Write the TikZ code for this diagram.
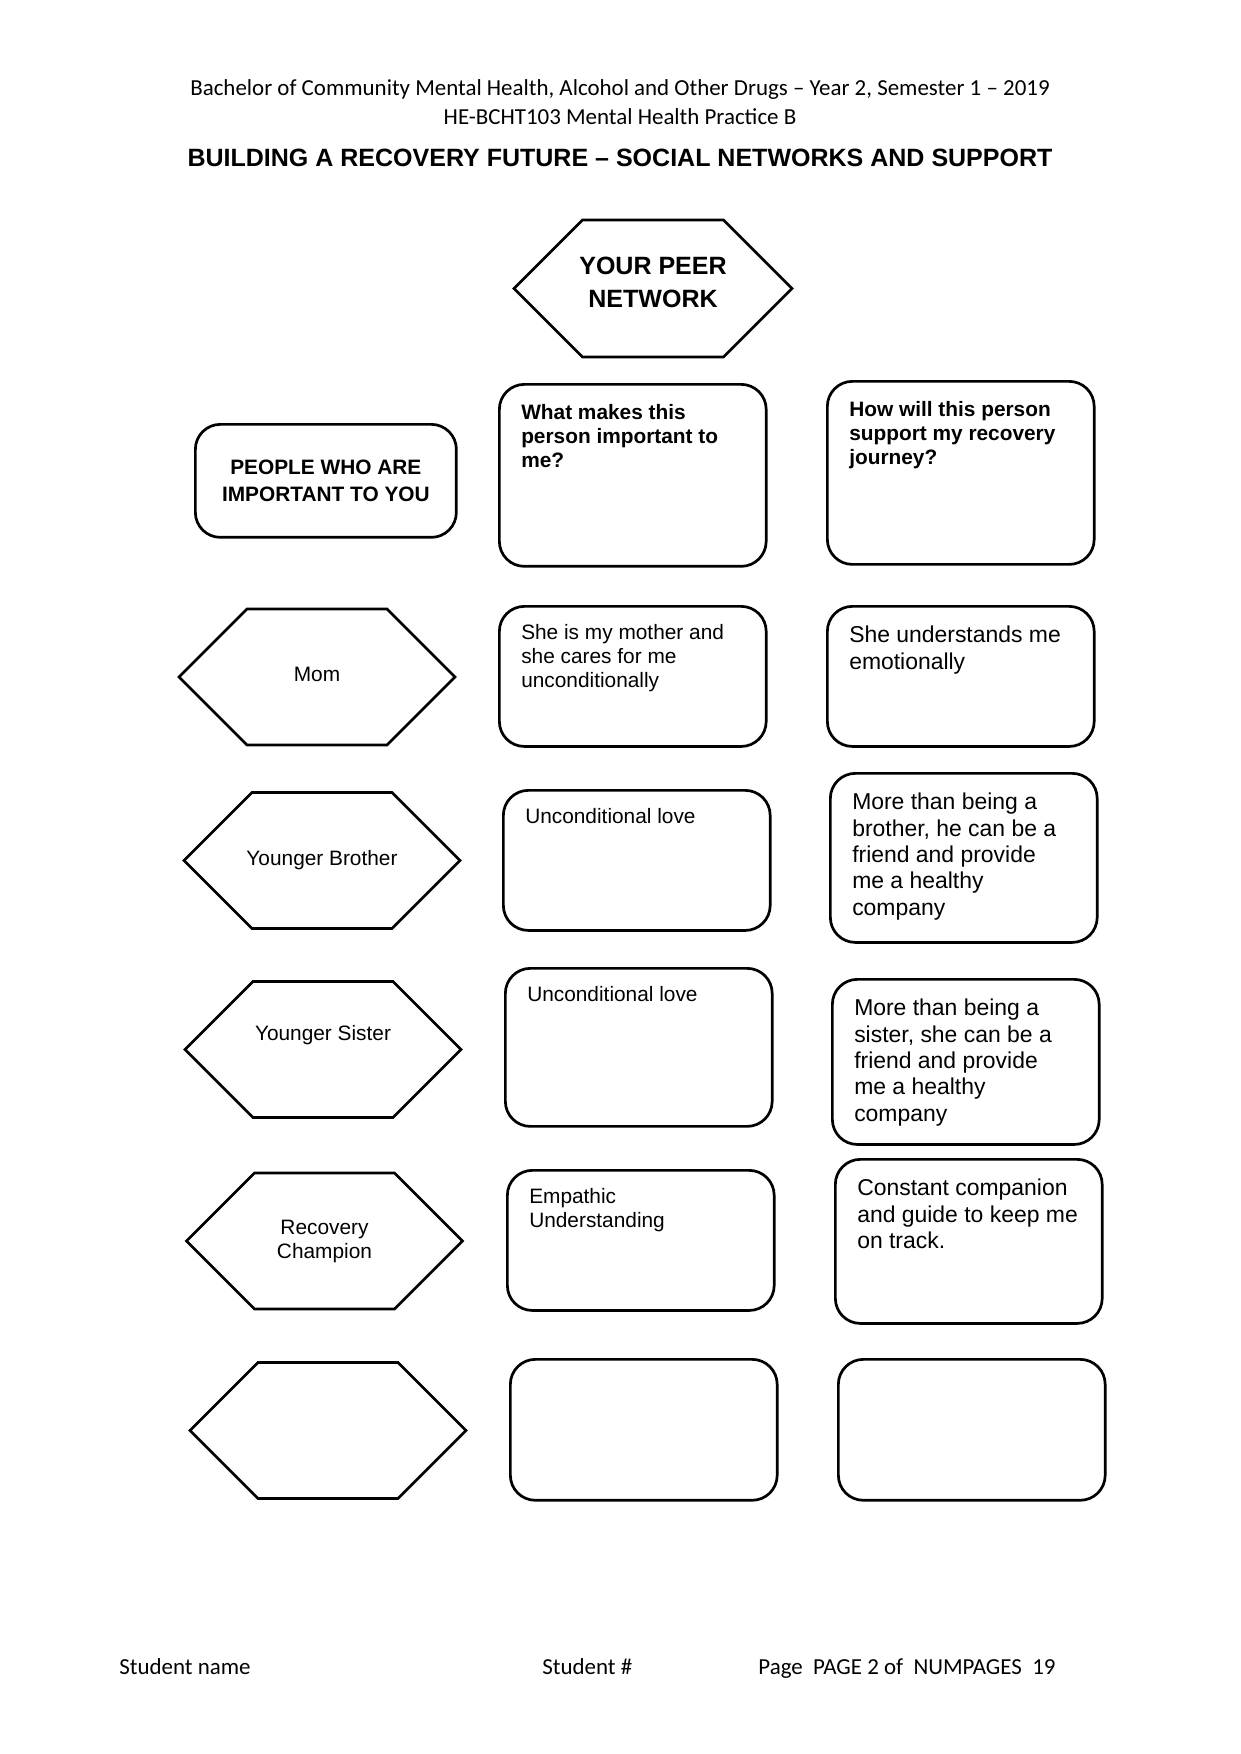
\documentclass[tikz,border=0pt]{standalone}
\usepackage{fontspec}
\setmainfont{Liberation Sans}
\newfontfamily\calibri{Carlito}
\usepackage{tikz}
\usetikzlibrary{shapes.symbols}

\newcommand{\cellfill}[3]{\parbox[t][#1][t]{#2}{#3}}

\begin{document}
\begin{tikzpicture}[
    x=0.4797pt, y=-0.4797pt,
    hexa/.style={signal, signal to=east and west, signal pointer angle=90, draw,
                 line width=1.3pt, minimum width=132.4pt, minimum height=65.2pt,
                 inner sep=0pt, align=center, font=\fontsize{10}{11.5}\selectfont},
    cell/.style={draw, line width=1.3pt, rounded corners=12pt, anchor=north west,
                 inner xsep=10.5pt, inner ysep=8.5pt},
    small/.style={font=\fontsize{10}{11.5}\selectfont},
    large/.style={font=\fontsize{11}{12.65}\selectfont, inner ysep=9.5pt},
    ask/.style={font=\bfseries\fontsize{10}{11.5}\selectfont, inner ysep=9.5pt},
    header/.style={font=\calibri\fontsize{11}{13.4}\selectfont, inner sep=0pt},
]
    \useasboundingbox (0,0) rectangle (1241,1754);

    % ── Page header ───────────────────────────────
    \node[header] (course) at (620,90)
        {Bachelor of Community Mental Health, Alcohol and Other Drugs – Year 2, Semester 1 – 2019};
    \node[header] (unit) at (620,117) {HE-BCHT103 Mental Health Practice B};
    \node[font=\bfseries\fontsize{12}{14}\selectfont, inner sep=0pt] (title) at (620,158)
        {BUILDING A RECOVERY FUTURE – SOCIAL NETWORKS AND SUPPORT};

    % ── Heads ─────────────────────────────────────
    \node[hexa, minimum width=133.4pt, minimum height=65.7pt, text depth=6pt,
          font=\bfseries\fontsize{12}{15.7}\selectfont] (peer) at (653,288.5)
        {\makebox[0pt]{YOUR PEER}\\\makebox[0pt]{NETWORK}};
    \node[cell, minimum width=125.2pt, minimum height=54.2pt, inner sep=0pt, align=center,
          font=\bfseries\fontsize{10}{13}\selectfont] (people) at (194,423)
        {PEOPLE WHO ARE\\IMPORTANT TO YOU};
    \node[cell, ask] (askwhy) at (498,383)
        {\cellfill{68.3pt}{107pt}{What makes this\\person important to\\me?}};
    \node[cell, ask] (askhow) at (826,380)
        {\cellfill{68.8pt}{107pt}{How will this person\\support my recovery\\journey?}};

    % ── Mom ───────────────────────────────────────
    \node[hexa, text depth=3pt] (mom) at (317,677) {Mom};
    \node[cell, small] (momwhy) at (498,605)
        {\cellfill{50.2pt}{107pt}{She is my mother and\\she cares for me\\unconditionally}};
    \node[cell, large] (momhow) at (826,605)
        {\cellfill{48.2pt}{107pt}{She understands me\\emotionally}};

    % ── Younger brother ───────────────────────────
    \node[hexa] (brother) at (322,860.5) {\makebox[0pt]{Younger Brother}};
    \node[cell, small] (brotherwhy) at (502,789)
        {\cellfill{50.2pt}{107pt}{Unconditional love}};
    \node[cell, large] (brotherhow) at (829,772)
        {\cellfill{62.1pt}{107pt}{More than being a\\brother, he can be a\\friend and provide\\me a healthy\\company}};

    % ── Younger sister ────────────────────────────
    \node[hexa, text depth=16pt] (sister) at (323,1049.5) {Younger Sister};
    \node[cell, small] (sisterwhy) at (504,967)
        {\cellfill{58.8pt}{107pt}{Unconditional love}};
    \node[cell, large] (sisterhow) at (831,978)
        {\cellfill{60.2pt}{107pt}{More than being a\\sister, she can be a\\friend and provide\\me a healthy\\company}};

    % ── Recovery champion ─────────────────────────
    \node[hexa] (champion) at (324.5,1241) {Recovery\\Champion};
    \node[cell, small] (championwhy) at (506,1169)
        {\cellfill{50.2pt}{107pt}{Empathic\\Understanding}};
    \node[cell, large] (championhow) at (834,1158)
        {\cellfill{59.7pt}{107pt}{Constant companion\\and guide to keep me\\on track.}};

    % ── Blank row ─────────────────────────────────
    \node[hexa] (blank) at (328,1430.5) {};
    \node[cell] (blankwhy) at (509,1358) {\cellfill{50.6pt}{107pt}{\mbox{}}};
    \node[cell] (blankhow) at (837,1358) {\cellfill{50.6pt}{107pt}{\mbox{}}};

    % ── Page footer ───────────────────────────────
    \node[header, anchor=base west] (student) at (119,1674) {Student name};
    \node[header, anchor=base west] (studentno) at (542,1674) {Student \#};
    \node[header, anchor=base west] (pageno) at (758,1674) {Page\ \ PAGE 2 of\ \ NUMPAGES\ \ 19};
\end{tikzpicture}
\end{document}
